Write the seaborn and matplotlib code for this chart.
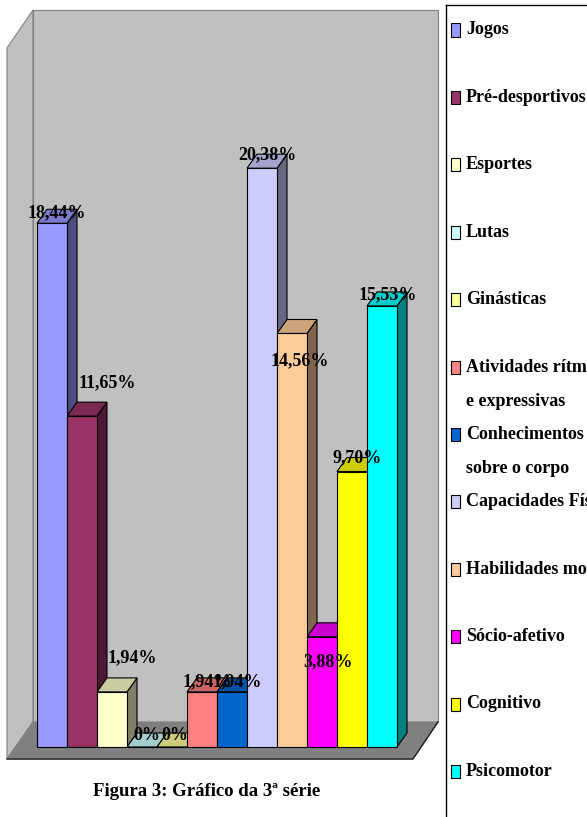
import matplotlib
matplotlib.use("Agg")
import matplotlib.pyplot as plt
import seaborn as sns
import pandas as pd
from matplotlib.patches import Polygon, Rectangle
from matplotlib.lines import Line2D
from matplotlib.colors import to_rgb

# ---------------- data ----------------
categories = ["Jogos", "Pré-desportivos", "Esportes", "Lutas", "Ginásticas",
              "Atividades rítmicas e expressivas", "Conhecimentos sobre o corpo",
              "Capacidades Físicas", "Habilidades motoras", "Sócio-afetivo",
              "Cognitivo", "Psicomotor"]
values = [18.44, 11.65, 1.94, 0.0, 0.0, 1.94, 1.94, 20.38, 14.56, 3.88, 9.70, 15.53]
value_labels = ["18,44%", "11,65%", "1,94%", "0%", "0%", "1,94%", "1,94%",
                "20,38%", "14,56%", "3,88%", "9,70%", "15,53%"]
legend_lines = [["Jogos"], ["Pré-desportivos"], ["Esportes"], ["Lutas"], ["Ginásticas"],
                ["Atividades rítmicas", "e expressivas"], ["Conhecimentos", "sobre o corpo"],
                ["Capacidades Físicas"], ["Habilidades motoras"], ["Sócio-afetivo"],
                ["Cognitivo"], ["Psicomotor"]]
colors = ["#9999FF", "#993366", "#FFFFCC", "#CCFFFF", "#FFFF99", "#FF8080",
          "#0066CC", "#CCCCFF", "#FFCC99", "#FF00FF", "#FFFF00", "#00FFFF"]
title = "Figura 3: Gráfico da 3ª série"

# ---------------- layout (pixels) ----------------
W, H = 587, 817
BAR_PX = 30.0        # bar width in px
X0_PX = 52.0         # centre of first bar
BASE_PX = 747.0      # front baseline
PPU = 28.4           # px per percent
DEPTH_PX = (10.0, 14.0)
# label centre offsets (px, right / down) from bar centre-top
label_off = [(5, -11), (25, -33), (20, -34), (5, -12), (3, -12), (5, -10), (5, -10),
             (5, -13), (8, 27), (6, 25), (5, -14), (6, -11)]
FONT = ["Liberation Serif", "DejaVu Serif"]
plt.rcParams["font.family"] = FONT

fig = plt.figure(figsize=(W / 100, H / 100), dpi=100)
fig.patch.set_facecolor("white")
ax = fig.add_axes([0, 0, 1, 1])


def px(xp, yp):
    return ((xp - X0_PX) / BAR_PX, (BASE_PX - yp) / PPU)


def shade(c, f):
    r, g, b = to_rgb(c)
    return (r * f, g * f, b * f)


# walls and floor (decoration)
back = Polygon([px(33, 10), px(438, 10), px(438, 722), px(33, 722)],
               closed=True, fc="#C0C0C0", ec="#808080", lw=0.8, zorder=0)
left = Polygon([px(33, 10), px(7, 48), px(7, 759), px(33, 722)],
               closed=True, fc="#C0C0C0", ec="#808080", lw=0.8, zorder=0)
floor = Polygon([px(33, 722), px(438, 722), px(413, 759), px(7, 759)],
                closed=True, fc="#808080", ec="#808080", lw=0.8, zorder=1)
for p in (back, left, floor):
    ax.add_patch(p)
ax.plot(*zip(px(7, 759), px(413, 759), px(438, 722)), color="#202020", lw=1.0, zorder=1)

# front faces via seaborn
df = pd.DataFrame({"cat": categories, "val": values})
sns.barplot(data=df, x="cat", y="val", hue="cat", palette=colors, width=1.0,
            saturation=1, edgecolor="black", linewidth=0.8, legend=False, ax=ax)
for i, p in enumerate(ax.patches):
    if isinstance(p, Rectangle):
        p.set_zorder(3 + 2 * i)

ddx = DEPTH_PX[0] / BAR_PX
ddy = DEPTH_PX[1] / PPU
for i, (v, c) in enumerate(zip(values, colors)):
    xl, xr = i - 0.5, i + 0.5
    side = Polygon([(xr, 0), (xr + ddx, ddy), (xr + ddx, v + ddy), (xr, v)], closed=True,
                   fc=shade(c, 0.5), ec="black", lw=0.8, zorder=2 + 2 * i)
    top = Polygon([(xl, v), (xr, v), (xr + ddx, v + ddy), (xl + ddx, v + ddy)], closed=True,
                  fc=shade(c, 0.8), ec="black", lw=0.8, zorder=2 + 2 * i)
    ax.add_patch(side)
    ax.add_patch(top)

for i, (v, lbl) in enumerate(zip(values, value_labels)):
    dx, dy = label_off[i]
    ax.annotate(lbl, xy=(i, v), xytext=(dx, -dy), textcoords="offset pixels",
                ha="center", va="center", fontsize=13, fontweight="bold",
                family=FONT, color="black", zorder=100)

ax.set_xlim((0 - X0_PX) / BAR_PX, (W - X0_PX) / BAR_PX)
ax.set_ylim((BASE_PX - H) / PPU, BASE_PX / PPU)
ax.axis("off")

# title
fig.text(207 / W, 1 - 792 / H, title, ha="center", va="center", fontsize=13.5,
         fontweight="bold", family=FONT)

# legend (manual, right side)
fig.add_artist(Line2D([446 / W, 446 / W], [0, 1 - 5 / H], color="black", lw=1.0))
fig.add_artist(Line2D([446 / W, 1], [1 - 5 / H, 1 - 5 / H], color="black", lw=1.0))
for i, (lines, c) in enumerate(zip(legend_lines, colors)):
    yc = 30 + i * 67.4
    fig.add_artist(Rectangle((451 / W, 1 - (yc + 6.5) / H), 9 / W, 13 / H,
                             fc=c, ec="black", lw=0.8, transform=fig.transFigure))
    for k, line in enumerate(lines):
        fig.text(466 / W, 1 - (yc + k * 34) / H, line, ha="left", va="center",
                 fontsize=13, fontweight="bold", family=FONT)

fig.savefig("out.png", dpi=100)
